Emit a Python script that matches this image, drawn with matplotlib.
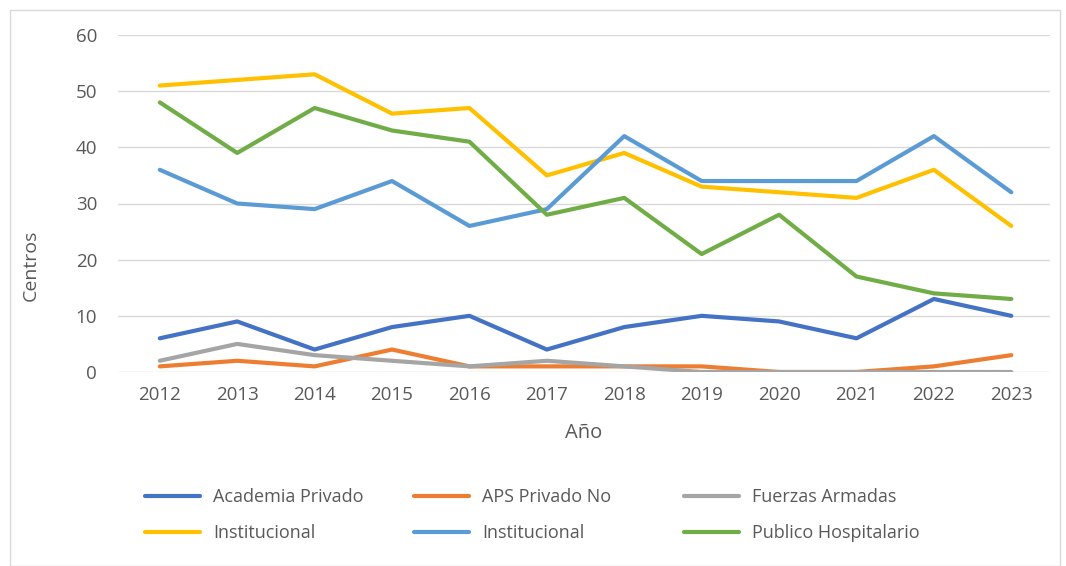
import numpy as np
import matplotlib.pyplot as plt
from matplotlib.patches import Rectangle

plt.rcParams['font.family'] = ['Open Sans', 'DejaVu Sans']

years = list(range(2012, 2024))
academia = [6, 9, 4, 8, 10, 4, 8, 10, 9, 6, 13, 10]
aps = [1, 2, 1, 4, 1, 1, 1, 1, 0, 0, 1, 3]
fuerzas = [2, 5, 3, 2, 1, 2, 1, 0, 0, 0, 0, 0]
inst_a = [51, 52, 53, 46, 47, 35, 39, 33, 32, 31, 36, 26]
inst_b = [36, 30, 29, 34, 26, 29, 42, 34, 34, 34, 42, 32]
publico = [48, 39, 47, 43, 41, 28, 31, 21, 28, 17, 14, 13]

series = [
    ("Academia Privado", academia, "#4472C4"),
    ("APS Privado No", aps, "#ED7D31"),
    ("Fuerzas Armadas", fuerzas, "#A5A5A5"),
    ("Institucional", inst_a, "#FFC000"),
    ("Institucional", inst_b, "#5B9BD5"),
    ("Publico Hospitalario", publico, "#70AD47"),
]

txt = "#595959"
fig = plt.figure(figsize=(10.66, 5.66), dpi=100)
ax = fig.add_axes([118/1066, 1-372/566, 932/1066, 337/566])

handles = []
for name, vals, col in series:
    h, = ax.plot(years, vals, color=col, lw=3, solid_capstyle='round', label=name)
    handles.append(h)

ax.set_xlim(2011.46, 2023.5)
ax.set_ylim(0, 60)
ax.set_xticks(years)
ax.set_yticks(range(0, 61, 10))
ax.grid(axis='y', color="#d9d9d9", lw=1)
ax.set_axisbelow(True)
for s in ax.spines.values():
    s.set_visible(False)
ax.tick_params(length=0, labelsize=13.5, labelcolor=txt)
ax.tick_params(axis='y', pad=15)
ax.tick_params(axis='x', pad=10)
ax.set_xlabel("Año", fontsize=14.5, color=txt, labelpad=14)
ax.set_ylabel("Centros", fontsize=14, color=txt)
ax.yaxis.set_label_coords(-0.084, 0.318)

# legend: three columns placed individually
colx = [138, 407, 677]
for i, x in enumerate(colx):
    leg = fig.legend(handles=[handles[i], handles[i+3]],
                     loc='upper left', bbox_to_anchor=(x/1066, 1-481/566),
                     frameon=False, fontsize=13, handlelength=3.05,
                     handletextpad=0.72, labelspacing=1.0, borderaxespad=0)
    for t in leg.get_texts():
        t.set_color(txt)

fig.patches.append(Rectangle((10/1066, 0), 1050/1066, 1-10/566, transform=fig.transFigure,
                             fill=False, edgecolor="#d9d9d9", lw=1))

fig.savefig("out.png", dpi=100)
